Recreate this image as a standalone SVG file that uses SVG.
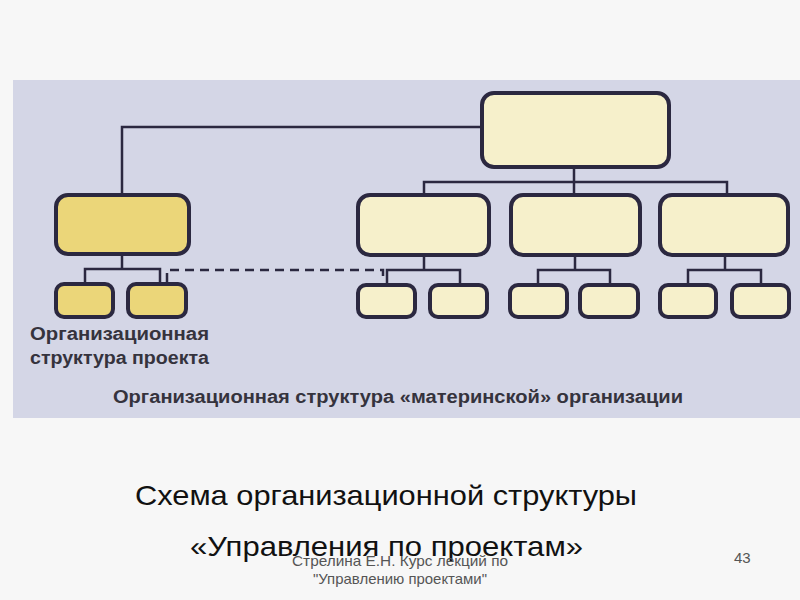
<svg xmlns="http://www.w3.org/2000/svg" width="800" height="600" viewBox="0 0 800 600">
<style>
.box{fill:#f6f0cb;stroke:#2b2840;stroke-width:4}
.pbox{fill:#ebd679;stroke:#2b2840;stroke-width:4}
.ln{fill:none;stroke:#2b2840;stroke-width:2.5}
.dash{fill:none;stroke:#2b2840;stroke-width:2.5;stroke-dasharray:9 6}
.lbl{font-family:"Liberation Sans",Arial,sans-serif;font-weight:bold;font-size:18px;fill:#35333d}
.title{font-family:"Liberation Sans",Arial,sans-serif;font-size:28px;fill:#111}
.foot{font-family:"Liberation Sans",Arial,sans-serif;font-size:15px;fill:#555}
</style>
<rect x="0" y="0" width="800" height="600" fill="#f7f7f7"/>
<rect x="13" y="80" width="787" height="338" fill="#d4d6e6"/>
<g id="connectors">
<path class="ln" d="M122,194 V127 H482"/>
<path class="ln" d="M574,167 V182 M424,195 V182 H727 V195 M574,182 V195"/>
<path class="ln" d="M122,254 V269 M85,284 V269 H160 V284"/>
<path class="ln" d="M424,256 V270 M387,285 V270 H460 V285"/>
<path class="ln" d="M575,255 V270 M538,285 V270 H610 V285"/>
<path class="ln" d="M725,255 V270 M688,285 V270 H761 V285"/>
<path class="dash" d="M167,282 V270 H383 V282"/>
</g>
<g id="top"><rect class="box" x="482" y="93" width="187" height="74" rx="12"/></g>
<g id="project"><rect class="pbox" x="56" y="195" width="133" height="59" rx="12"/></g>
<g id="project-1"><rect class="pbox" x="56" y="284" width="57" height="33" rx="8"/></g>
<g id="project-2"><rect class="pbox" x="128" y="284" width="58" height="33" rx="8"/></g>
<g id="mid1"><rect class="box" x="358" y="195" width="131" height="60" rx="12"/></g>
<g id="mid2"><rect class="box" x="511" y="195" width="129" height="60" rx="12"/></g>
<g id="mid3"><rect class="box" x="660" y="195" width="128" height="60" rx="12"/></g>
<g id="mid1-1"><rect class="box" x="358" y="285" width="57" height="32" rx="8"/></g>
<g id="mid1-2"><rect class="box" x="430" y="285" width="57" height="32" rx="8"/></g>
<g id="mid2-1"><rect class="box" x="510" y="285" width="57" height="32" rx="8"/></g>
<g id="mid2-2"><rect class="box" x="580" y="285" width="58" height="32" rx="8"/></g>
<g id="mid3-1"><rect class="box" x="660" y="285" width="56" height="32" rx="8"/></g>
<g id="mid3-2"><rect class="box" x="732" y="285" width="57" height="32" rx="8"/></g>
<g id="labels">
<text class="lbl" x="30" y="340" textLength="179" lengthAdjust="spacingAndGlyphs">Организационная</text>
<text class="lbl" x="30" y="364" textLength="179" lengthAdjust="spacingAndGlyphs">структура проекта</text>
<text class="lbl" x="113" y="403" textLength="570" lengthAdjust="spacingAndGlyphs">Организационная структура «материнской» организации</text>
</g>
<g id="title">
<text class="title" x="135" y="505" textLength="502" lengthAdjust="spacingAndGlyphs">Схема организационной структуры</text>
<text class="title" x="190" y="556" textLength="393" lengthAdjust="spacingAndGlyphs">«Управления по проектам»</text>
</g>
<g id="footer">
<text class="foot" x="292" y="566" textLength="216" lengthAdjust="spacingAndGlyphs">Стрелина Е.Н. Курс лекций по</text>
<text class="foot" x="313" y="584" textLength="174" lengthAdjust="spacingAndGlyphs">"Управлению проектами"</text>
<text class="foot" x="734" y="563" font-size="17" fill="#333">43</text>
</g>
</svg>
